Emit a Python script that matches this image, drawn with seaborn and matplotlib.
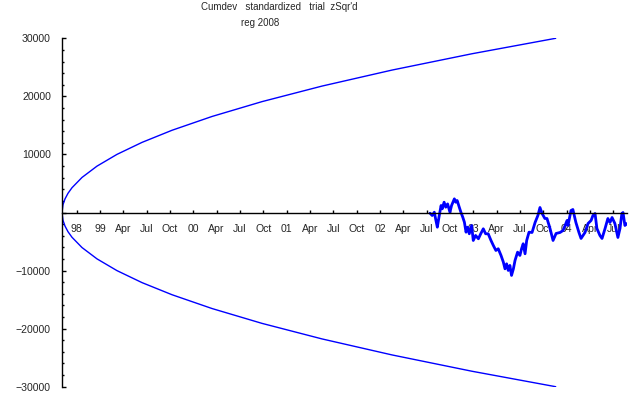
import matplotlib
matplotlib.use("Agg")
import matplotlib.pyplot as plt
import seaborn as sns
from matplotlib.ticker import MultipleLocator, FixedLocator

# x in quarter units: 0 = Oct 1998 tick, 1 = Jan 1999, ...
tick_labels = ["98", "99", "Apr", "Jul", "Oct", "00", "Apr", "Jul", "Oct", "01",
               "Apr", "Jul", "Oct", "02", "Apr", "Jul", "Oct", "03", "Apr", "Jul",
               "Oct", "04", "Apr", "Jul"]

# envelope (upper half; lower is mirrored)
env_x = [-0.629, -0.586, -0.500, -0.372, -0.200, 0.229, 0.872, 1.729, 2.801,
         4.087, 5.801, 7.944, 10.516, 13.516, 16.945, 20.533]
env_y = [0, 1350, 2339, 3307, 4270, 6038, 7988, 10013, 12076, 14161, 16537,
         19094, 21771, 24527, 27339, 30000]

# cumulative deviation trace
walk_x = [15.146, 15.24, 15.33, 15.40, 15.46, 15.53, 15.62, 15.67, 15.75, 15.82,
          15.90, 16.00, 16.07, 16.19, 16.25, 16.31, 16.40, 16.47, 16.55, 16.62,
          16.69, 16.76, 16.83, 16.93, 17.00, 17.10, 17.22, 17.32, 17.43, 17.53,
          17.64, 17.76, 17.86, 17.97, 18.07, 18.19, 18.29, 18.36, 18.43, 18.50,
          18.57, 18.64, 18.72, 18.79, 18.90, 19.00, 19.07, 19.14, 19.22, 19.29,
          19.39, 19.52, 19.65, 19.77, 19.86, 19.95, 20.07, 20.16,
          20.29, 20.42, 20.55, 20.72, 20.85, 21.02, 21.06, 21.19, 21.27, 21.40,
          21.53, 21.62, 21.79, 21.92, 22.05, 22.13, 22.22, 22.30, 22.43, 22.52,
          22.65, 22.77, 22.86, 22.95, 23.07, 23.20, 23.29, 23.37, 23.42, 23.50,
          23.59]
walk_y = [-120, -516, 52, -1376, -2530, -808, 1204, 636, 1772, 912,
          1480, 52, 1204, 2356, 1772, 2064, 912, 52, -808, -1668,
          -3388, -2530, -3664, -2236, -4816, -3956, -4524, -3664, -2804, -3664,
          -3664, -4816, -5676, -6536, -6244, -7396, -8548, -9700, -8840, -9976,
          -9116, -10836, -9700, -8256, -6828, -7396, -6244, -5384, -7108, -4816,
          -3388, -3440, -1720, -516, 860, -172, -1032, -1032,
          -2752, -4816, -3612, -3440, -3096, -1376, -2236, 344, 516, -1720,
          -3440, -4472, -3440, -1892, -1376, -516, -172, -2752, -3956, -4472,
          -2752, -1032, -1720, -860, -1892, -4300, -2752, -172, 0, -2236,
          -1892]

sns.set_style("white")
plt.rcParams['font.family'] = ['Liberation Sans', 'DejaVu Sans']

fig = plt.figure(figsize=(6.4, 3.95), dpi=100)
W, H = 640, 395
ax = fig.add_axes([62 / W, (H - 386.7) / H, (627 - 62) / W, (386.7 - 38.3) / H])

blue = (0, 0, 1)
sns.lineplot(x=env_x, y=env_y, ax=ax, color=blue, lw=1.0, estimator=None, sort=False)
sns.lineplot(x=env_x, y=[-v for v in env_y], ax=ax, color=blue, lw=1.0,
             estimator=None, sort=False)
sns.lineplot(x=walk_x, y=walk_y, ax=ax, color=blue, lw=2.0, estimator=None, sort=False)

ax.set_xlim(-0.629, 23.59)
ax.set_ylim(-30000, 30000)

for s in ["top", "right"]:
    ax.spines[s].set_visible(False)
ax.spines["bottom"].set_position(("data", 0))
for s in ["left", "bottom"]:
    ax.spines[s].set_color("black")
    ax.spines[s].set_linewidth(1.0)

ax.xaxis.set_major_locator(FixedLocator(range(len(tick_labels))))
ax.set_xticklabels(tick_labels)
ax.yaxis.set_minor_locator(MultipleLocator(2000))
ax.set_yticks([-30000, -20000, -10000, 0, 10000, 20000, 30000])
ax.set_yticklabels(["\u221230000", "\u221220000", "\u221210000", "", "10000", "20000", "30000"])

ax.tick_params(axis="y", which="major", direction="in", length=3, width=1,
               color="black", labelsize=7.6, pad=8, left=True)
ax.tick_params(axis="y", which="minor", direction="in", length=1.5, width=1,
               color="black", left=True)
ax.tick_params(axis="x", which="major", direction="in", length=2, width=1,
               color="black", labelsize=7.6, pad=8, bottom=True)
ax.set_xlabel("")
ax.set_ylabel("")
ax.grid(False)

fig.text(279.5 / W, 1 - 7.5 / H, "Cumdev   standardized   trial  zSqr'd",
         ha="center", va="center", fontsize=7.0)
fig.text(260 / W, 1 - 23 / H, "reg 2008", ha="center", va="center", fontsize=7.0)

fig.savefig("out.png", dpi=100, facecolor="white")
